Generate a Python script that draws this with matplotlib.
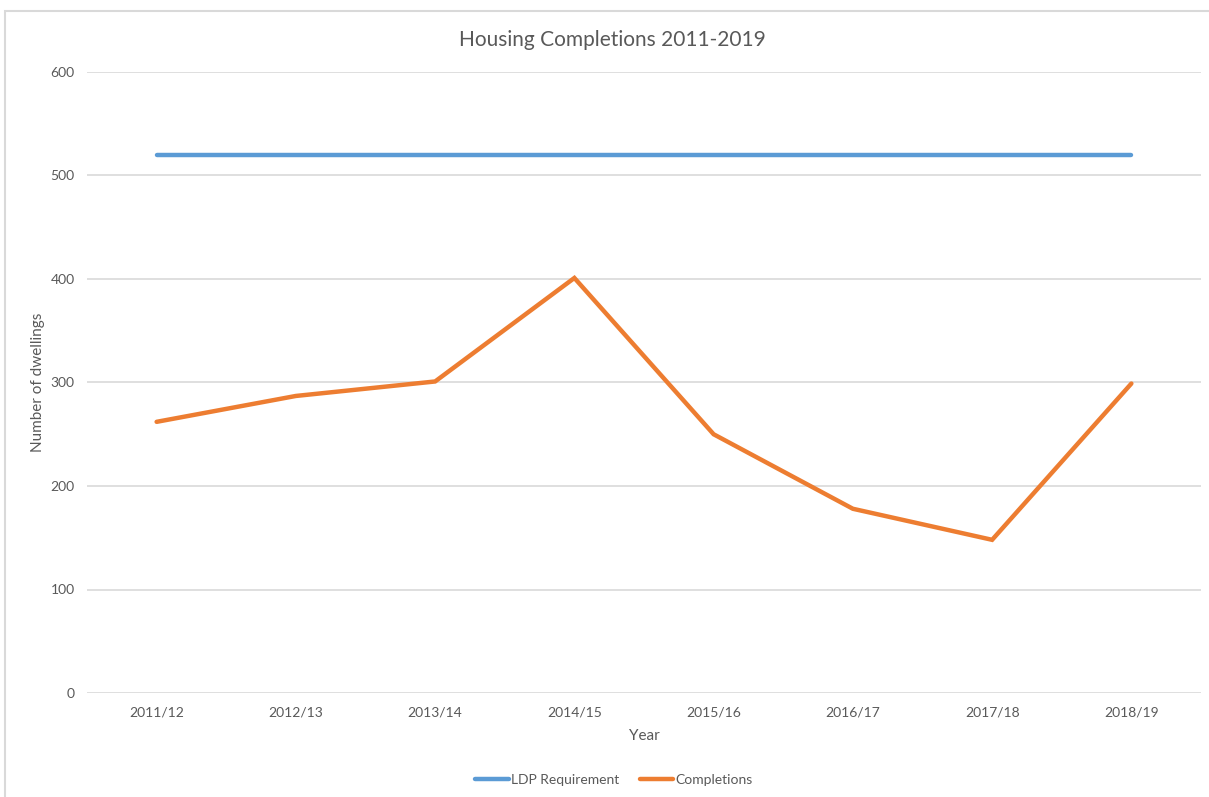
import matplotlib
matplotlib.use("Agg")
import matplotlib.pyplot as plt
from matplotlib.patches import Rectangle

years = ["2011/12", "2012/13", "2013/14", "2014/15", "2015/16", "2016/17", "2017/18", "2018/19"]
ldp_requirement = [520, 520, 520, 520, 520, 520, 520, 520]
completions = [262, 287, 301, 401, 250, 178, 148, 299]
y_ticks = [0, 100, 200, 300, 400, 500, 600]

plt.rcParams['font.family'] = ['Lato', 'DejaVu Sans']
W, H = 1209, 797
fig = plt.figure(figsize=(W / 100, H / 100), dpi=100)
fig.patch.set_facecolor('white')

# outer chart border
fig.patches.append(Rectangle((5 / W, 1 - 805 / H), 1215 / W, 794 / H,
                             transform=fig.transFigure, fill=False,
                             edgecolor='#D9D9D9', linewidth=1.5))

ax = fig.add_axes([87 / W, 1 - 693 / H, (1201 - 87) / W, (693 - 72) / H])
x = list(range(len(years)))
ax.plot(x, ldp_requirement, color='#5B9BD5', linewidth=3.2, label='LDP Requirement',
        solid_capstyle='round')
ax.plot(x, completions, color='#ED7D31', linewidth=3.2, label='Completions',
        solid_capstyle='round', solid_joinstyle='miter')

ax.set_xlim(-0.5, 7.5)
ax.set_ylim(0, 600)
ax.set_yticks(y_ticks)
ax.set_xticks(x)
ax.set_xticklabels(years)
ax.grid(axis='y', color='#D9D9D9', linewidth=1.2)
ax.set_axisbelow(True)
for s in ax.spines.values():
    s.set_visible(False)
ax.tick_params(axis='both', length=0, labelsize=10, labelcolor='#595959')
ax.tick_params(axis='x', pad=10)
ax.tick_params(axis='y', pad=9)

ax.set_ylabel('Number of dwellings', fontsize=11, color='#595959')
ax.yaxis.set_label_coords(-0.044, 0.5)
ax.yaxis.label.set_va('center')
ax.set_xlabel('Year', fontsize=11, color='#595959')
ax.xaxis.set_label_coords(0.5, -0.069)
ax.xaxis.label.set_va('center')

fig.text(612 / W, 1 - 40 / H, 'Housing Completions 2011-2019', ha='center', va='center',
         fontsize=15, color='#595959')

fig.legend(loc='center', bbox_to_anchor=(614 / W, 1 - 780 / H), ncol=2, frameon=False,
           fontsize=10, labelcolor='#595959', handlelength=2.4, handletextpad=0.15,
           columnspacing=1.5)

fig.savefig('out.png', dpi=100, facecolor='white')
